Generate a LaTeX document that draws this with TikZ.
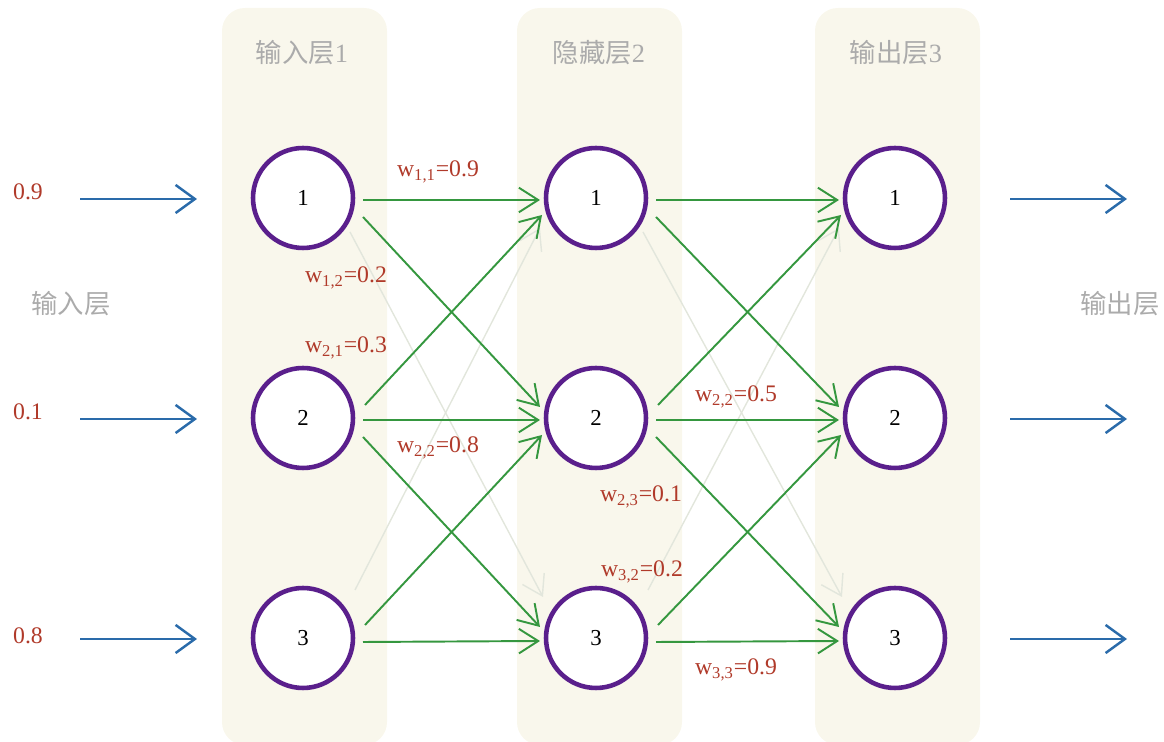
\documentclass[tikz,border=0pt]{standalone}
\usepackage{fontspec}
\setmainfont{Liberation Serif}
\newfontfamily\cjk{Noto Sans CJK SC}
\usetikzlibrary{arrows.meta}
\definecolor{panelc}{HTML}{F9F7EC}
\definecolor{grayt}{HTML}{ABABAB}
\definecolor{redt}{HTML}{B03A2A}
\definecolor{grn}{HTML}{35973F}
\definecolor{purp}{HTML}{5A1F8C}
\definecolor{blu}{HTML}{2A6BAA}
\definecolor{faint}{HTML}{E2E6DC}
\tikzset{
  panel/.style={fill=panelc, rounded corners=13pt},
  neuron/.style={circle, draw=purp, line width=2.6pt, fill=white, minimum size=2.0cm, inner sep=0pt, font=\fontsize{13}{15}\selectfont},
  title/.style={text=grayt, font=\fontsize{15}{18}\selectfont},
  side/.style={text=grayt, font=\cjk\fontsize{15}{18}\selectfont},
  val/.style={text=redt, font=\fontsize{13.5}{16}\selectfont},
  wlab/.style={text=redt, font=\fontsize{13.5}{16}\selectfont},
  conn/.style={draw=grn, line width=1.1pt, -{Straight Barb[length=11pt,width=14pt,line width=1.1pt]}},
  fconn/.style={draw=faint, line width=0.8pt, -{Straight Barb[length=11pt,width=14pt,line width=0.8pt]}},
  io/.style={draw=blu, line width=1.4pt, -{Straight Barb[length=11pt,width=16pt,line width=1.4pt]}}
}
\begin{document}
\begin{tikzpicture}[x=0.02cm, y=-0.02cm]
\useasboundingbox (0,0) rectangle (1164,742);
% panels
\fill[panel] (222,8) rectangle (387,745);
\fill[panel] (517,8) rectangle (682,745);
\fill[panel] (815,8) rectangle (980,745);
% titles
\node[title] (t1) at (302,53) {{\cjk 输入层}1};
\node[title] (t2) at (599,53) {{\cjk 隐藏层}2};
\node[title] (t3) at (896,53) {{\cjk 输出层}3};
\node[side] (lin) at (71,304) {输入层};
\node[side] (lout) at (1120,304) {输出层};
% neurons
\foreach \i/\y in {1/198,2/418,3/638}{
  \node[neuron] (a\i) at (303,\y) {\i};
  \node[neuron] (b\i) at (596,\y) {\i};
  \node[neuron] (c\i) at (895,\y) {\i};
}
% faint connectors
\foreach \p/\q in {a/b,b/c}{
  \draw[fconn] ([shift={(47,34)}]\p1.center) -- ([shift={(-53,-41)}]\q3.center);
  \draw[fconn] ([shift={(52,-48)}]\p3.center) -- ([shift={(-56,30)}]\q1.center);
}
% green connectors
\foreach \p/\q in {a/b,b/c}{
  \draw[conn] ([shift={(60,2)}]\p1.center) -- ([shift={(-56,2)}]\q1.center);
  \draw[conn] ([shift={(60,2)}]\p2.center) -- ([shift={(-56,2)}]\q2.center);
  \draw[conn] ([shift={(60,4)}]\p3.center) -- ([shift={(-56,3)}]\q3.center);
  \draw[conn] ([shift={(60,19)}]\p1.center) -- ([shift={(-56,-11)}]\q2.center);
  \draw[conn] ([shift={(60,19)}]\p2.center) -- ([shift={(-56,-11)}]\q3.center);
  \draw[conn] ([shift={(62,-13)}]\p2.center) -- ([shift={(-54,17)}]\q1.center);
  \draw[conn] ([shift={(62,-13)}]\p3.center) -- ([shift={(-54,17)}]\q2.center);
}
% input values and arrows
\node[val] (v1) at (28,192) {0.9};
\node[val] (v2) at (28,412) {0.1};
\node[val] (v3) at (28,636) {0.8};
\foreach \i/\y in {1/199,2/419,3/639}{
  \coordinate (s\i) at (80,\y);
  \coordinate (e\i) at (1127,\y);
  \draw[io] (s\i) -- ([shift={(-106,1)}]a\i.center);
  \draw[io] ([shift={(115,1)}]c\i.center) -- (e\i);
}
% weight labels
\node[wlab] (w11) at (438,172) {w\textsubscript{1,1}=0.9};
\node[wlab] (w12) at (346,278) {w\textsubscript{1,2}=0.2};
\node[wlab] (w21) at (346,348) {w\textsubscript{2,1}=0.3};
\node[wlab] (w22) at (438,448) {w\textsubscript{2,2}=0.8};
\node[wlab] (x22) at (736,397) {w\textsubscript{2,2}=0.5};
\node[wlab] (x23) at (641,497) {w\textsubscript{2,3}=0.1};
\node[wlab] (x32) at (642,572) {w\textsubscript{3,2}=0.2};
\node[wlab] (x33) at (736,670) {w\textsubscript{3,3}=0.9};
\end{tikzpicture}
\end{document}
